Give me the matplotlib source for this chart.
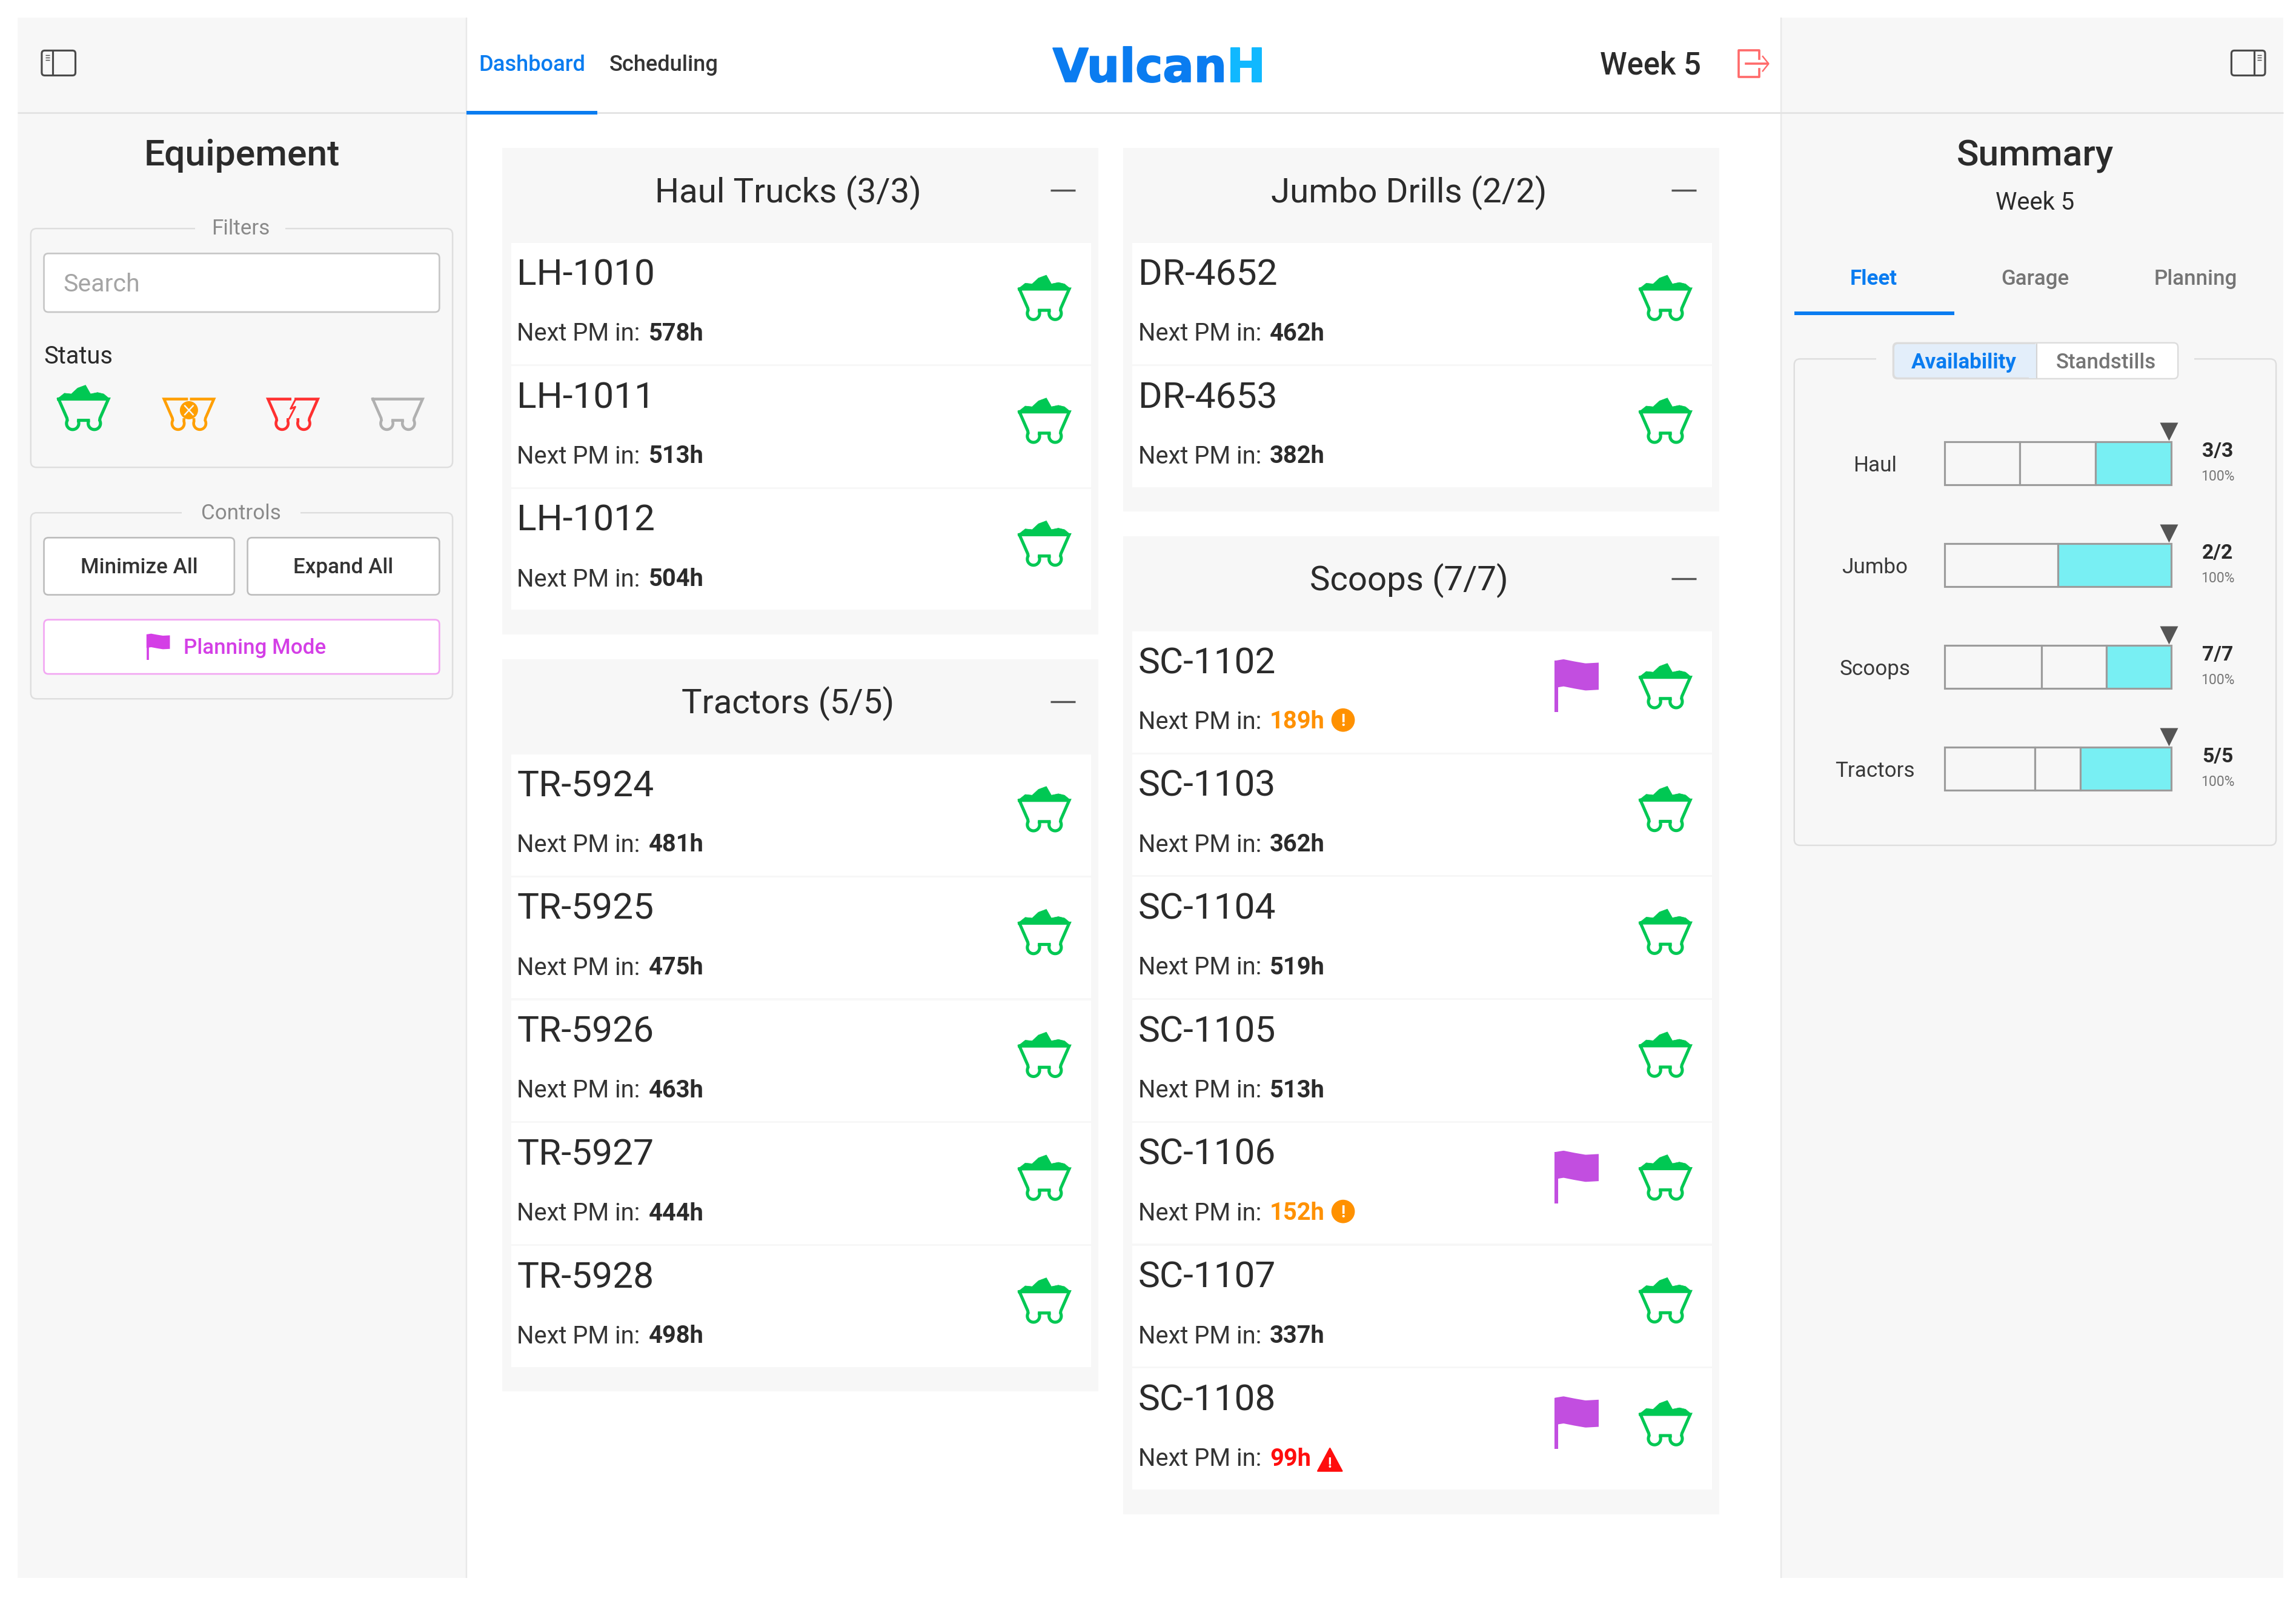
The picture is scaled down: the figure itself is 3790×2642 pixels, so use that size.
import numpy as np
import matplotlib
matplotlib.use("Agg")
import matplotlib.pyplot as plt
from matplotlib.patches import FancyBboxPatch, Rectangle, Polygon, Circle
import matplotlib.patheffects as pe

# ---- data ----
haul_ids = ["LH-1010", "LH-1011", "LH-1012"]
haul_pm = [578, 513, 504]
tractor_ids = ["TR-5924", "TR-5925", "TR-5926", "TR-5927", "TR-5928"]
tractor_pm = [481, 475, 463, 444, 498]
jumbo_ids = ["DR-4652", "DR-4653"]
jumbo_pm = [462, 382]
scoop_ids = ["SC-1102", "SC-1103", "SC-1104", "SC-1105", "SC-1106", "SC-1107", "SC-1108"]
scoop_pm = [189, 362, 519, 513, 152, 337, 99]
scoop_flagged = ["SC-1102", "SC-1106", "SC-1108"]

avail_labels = ["Haul", "Jumbo", "Scoops", "Tractors"]
avail_segments = [[1, 1, 1], [1, 1], [3, 2, 2], [2, 1, 2]]
avail_counts = ["3/3", "2/2", "7/7", "5/5"]
avail_pct = ["100%", "100%", "100%", "100%"]
status_colors = ["#00c853", "#ff9f00", "#ff3030", "#b0b0b0"]

# ---- setup ----
W, H = 1568.0, 1092.8
U = 3791 / 1568 * 72 / 100   # points per layout unit
FAM = ["Roboto", "DejaVu Sans"]
DARK = "#2b2b2b"
BLUE = "#0a7cf0"
PANEL = "#f7f7f7"
LINE = "#e4e4e4"
GREEN = "#00c853"
PURPLE = "#c24ee0"

fig = plt.figure(figsize=(37.91, 26.42), dpi=100, facecolor="white")
ax = fig.add_axes([0, 0, 1, 1])
ax.set_xlim(0, W)
ax.set_ylim(H, 0)
ax.axis("off")


def T(x, y, s, size, color=DARK, ha="center", weight="normal", va="center_baseline", z=6, family=None, **kw):
    return ax.text(x, y - 0.07 * size, s, fontsize=size * U, color=color, ha=ha, va=va, weight=weight,
                   family=family or FAM, zorder=z, **kw)


def rect(x0, y0, x1, y1, fc, ec="none", lw=0, z=1):
    ax.add_patch(Rectangle((x0, y0), x1 - x0, y1 - y0, fc=fc, ec=ec, lw=lw * U, zorder=z))


def rbox(x0, y0, x1, y1, fc="white", ec="#c9c9c9", lw=1.0, r=3, z=3):
    ax.add_patch(FancyBboxPatch((x0 + r, y0 + r), x1 - x0 - 2 * r, y1 - y0 - 2 * r,
                                boxstyle=f"round,pad={r},rounding_size={r}",
                                fc=fc, ec=ec, lw=lw * U, zorder=z))


def hline(x0, x1, y, c=LINE, lw=1.0, z=2):
    ax.plot([x0, x1], [y, y], color=c, lw=lw * U, zorder=z, solid_capstyle="butt")


def vline(x, y0, y1, c=LINE, lw=1.0, z=2):
    ax.plot([x, x], [y0, y1], color=c, lw=lw * U, zorder=z, solid_capstyle="butt")


def wheel_right():
    # from the outer side, under the bottom, to the inner side
    th = np.radians(np.linspace(-30, 200, 24))
    return np.c_[7.4 + 4.2 * np.cos(th), 9.6 + 4.2 * np.sin(th)]


def cart(cx, cy, color=GREEN, load=True, lw=2.1, z=5):
    wr = wheel_right()
    wl = wr[::-1] * [-1, 1]
    p = np.vstack([[[-17, -7], [17, -7], [11.3, 6]], wr, [[3.4, 7.5], [-3.4, 7.5]], wl, [[-11.3, 6], [-17, -7]]])
    p = p + [cx, cy]
    ax.plot(p[:, 0], p[:, 1], color=color, lw=lw * U, zorder=z, solid_joinstyle="miter")
    if load:
        l = np.array([[-18, -7], [-13, -11], [-8.3, -10.5], [-4, -14.5], [1.4, -16.5], [4.8, -10.5],
                      [9.6, -11.5], [13.8, -10.5], [18, -7]]) + [cx, cy]
        ax.add_patch(Polygon(l, closed=True, fc=color, ec=color, lw=0.3 * U, zorder=z))


def split_cart(cx, cy, color, gap=2.0, lw=1.9, z=5):
    """Empty cart broken into two halves around the centre."""
    wr = wheel_right()
    half = np.vstack([[[gap, -7], [17, -7], [11.3, 6]], wr, [[3.4, 7.0]]])
    for sgn in (1, -1):
        p = half * [sgn, 1] + [cx, cy]
        ax.plot(p[:, 0], p[:, 1], color=color, lw=lw * U, zorder=z, solid_joinstyle="miter")


FLAG_X = [0, 0.2, 0.45, 0.7, 1]
FLAG_Y = [1.0, 0.0, 1.5, 2.8, 2.3]


def flag(x, y, w=30, h=36, color=PURPLE, z=5):
    # x, y: top-left of the pole
    k = h / 36
    xs = np.linspace(0, 1, 40)
    wave = np.interp(xs, FLAG_X, FLAG_Y) * k
    top = np.c_[x + xs * w, y + wave]
    bot = np.c_[x + xs * w, y + 18.5 * k + wave]
    ax.add_patch(Polygon(np.vstack([top, bot[::-1]]), closed=True, fc=color, ec="none", zorder=z))
    vline(x + 1.25 * max(k, 0.6), y + 1, y + h, c=color, lw=2.5 * max(k, 0.6), z=z)


def group(x0, y0, x1, title, ids, pms, flagged=()):
    n = len(ids)
    pitch = 83.85
    y1 = y0 + 65 + pitch * n + 15.5
    rect(x0, y0, x1, y1, PANEL, z=1)
    T((x0 + x1) / 2 - 8.5, y0 + 29.5, title, 23.3)
    hline(x1 - 33, x1 - 16, y0 + 29, c="#555555", lw=1.4)
    for i, (name, pm) in enumerate(zip(ids, pms)):
        top = y0 + 65 + pitch * i
        rect(x0 + 6, top, x1 - 5, top + pitch - 1.3, "white", z=2)
        T(x0 + 10, top + 21, name, 25, ha="left")
        T(x0 + 10, top + 61.3, "Next PM in:", 16.5, ha="left", color="#333333")
        col = "#ff0d0d" if pm < 100 else ("#ff9100" if pm < 200 else DARK)
        T(x0 + 100, top + 61.3, f"{pm}h", 16.5, ha="left", color=col, weight="bold")
        if pm < 100:
            tx = x0 + 141
            ax.add_patch(Polygon([[tx, top + 54.5], [tx + 8.3, top + 70], [tx - 8.3, top + 70]], closed=True,
                                 fc="#ff0d0d", ec="#ff0d0d", lw=1 * U, joinstyle="round", zorder=5))
            T(tx, top + 64.5, "!", 10, color="white", weight="bold")
        elif pm < 200:
            cxx = x0 + 150
            ax.add_patch(Circle((cxx, top + 60.5), 8, fc="#ff9100", ec="none", zorder=5))
            T(cxx, top + 61, "!", 11, color="white", weight="bold")
        cart(x1 - 37, top + 38.3)
        if name in flagged:
            flag(x0 + 294.5, top + 19)
    return y1


# ---- page frame ----
rect(12, 12, 318.5, 1077, PANEL, z=0)
rect(1216, 12, 1559, 1077, PANEL, z=0)
vline(318.5, 12, 1077, c="#e8e8e8", lw=1.0)
vline(1216, 12, 1077, c="#e8e8e8", lw=1.0)
hline(12, 1559, 77, c="#e3e3e3", lw=1.2)

# ---- top bar ----
rect(318.5, 75.5, 408, 78.2, BLUE, z=3)
T(327, 44, "Dashboard", 15, color=BLUE, ha="left", weight="medium")
T(416, 44, "Scheduling", 15, color="#333333", ha="left", weight="medium")
LOGO = ["DejaVu Sans"]
T(837.5, 46, "Vulcan", 31.5, color=BLUE, ha="right", weight="bold", family=LOGO,
  path_effects=[pe.withStroke(linewidth=0.8 * U, foreground=BLUE)])
T(837.5, 46, "H", 31.5, color="#10b8ff", ha="left", weight="bold", family=LOGO,
  path_effects=[pe.withStroke(linewidth=0.8 * U, foreground="#10b8ff")])
T(1127, 44, "Week 5", 21, ha="center", weight="medium")
# exit icon
ax.plot([1201, 1201, 1187, 1187, 1201, 1201], [40, 34.5, 34.5, 52.5, 52.5, 47],
        color="#ff6a6a", lw=1.5 * U, zorder=5)
ax.plot([1192, 1207], [43.5, 43.5], color="#ff6a6a", lw=1.5 * U, zorder=5)
ax.plot([1203.5, 1207.5, 1203.5], [38.5, 43.5, 48.5], color="#ff6a6a", lw=1.0 * U, zorder=5)


def side_icon(x0, x1, panel_left):
    rbox(x0, 34.5, x1, 51.5, fc="none", ec="#4a4a4a", lw=1.3, r=2, z=5)
    if panel_left:
        vline(x0 + 7.5, 34.5, 51.5, c="#4a4a4a", lw=1.3, z=5)
        for yy in (37.5, 39.3, 41.1):
            hline(x0 + 2.5, x0 + 5.5, yy, c="#4a4a4a", lw=0.6, z=5)
    else:
        vline(x1 - 7.5, 34.5, 51.5, c="#4a4a4a", lw=1.3, z=5)
        for yy in (37.5, 39.3, 41.1):
            hline(x1 - 5.5, x1 - 2.5, yy, c="#4a4a4a", lw=0.6, z=5)


side_icon(28.5, 51.5, True)
side_icon(1523.5, 1546.5, False)

# ---- left panel ----
T(165, 105.5, "Equipement", 25, weight="medium")
rbox(21, 156, 309, 319, fc=PANEL, ec="#dedede", lw=1.0, r=4, z=2)
rect(133, 150, 195, 160, PANEL, z=3)
T(164.5, 155.8, "Filters", 14.5, color="#8a8a8a")
rbox(30, 173, 300, 213, fc="white", ec="#c6c6c6", lw=1.1, r=3)
T(43, 193.8, "Search", 17, color="#a5a5a5", ha="left")
T(30, 242.8, "Status", 16.5, ha="left")
status_x = [57, 129, 200, 271.5]
status_cy = 279.4
cart(status_x[0], status_cy, color=status_colors[0])
split_cart(status_x[1], status_cy, status_colors[1], gap=1.6)
split_cart(status_x[2], status_cy, status_colors[2], gap=2.0)
cart(status_x[3], status_cy, color=status_colors[3], load=False, lw=1.9)
ox = status_x[1]
ax.add_patch(Circle((ox, 280), 6.2, fc=status_colors[1], ec="none", zorder=7))
ax.plot([ox - 2.8, ox + 2.8], [277, 283], color=PANEL, lw=1.0 * U, zorder=8)
ax.plot([ox - 2.8, ox + 2.8], [283, 277], color=PANEL, lw=1.0 * U, zorder=8)
bx = status_x[2]
ax.plot([bx + 1.6, bx - 1.6, bx + 1.6, bx - 2.4], [272.9, 279, 277.7, 285.4],
        color=status_colors[2], lw=1.2 * U, zorder=7)

rbox(21, 350, 309, 477, fc=PANEL, ec="#dedede", lw=1.0, r=4, z=2)
rect(124, 344, 205, 355, PANEL, z=3)
T(164.5, 350, "Controls", 14.5, color="#8a8a8a")
rbox(30, 367, 160, 406, fc="white", ec="#bdbdbd", lw=1.1, r=3)
T(95, 387, "Minimize All", 14.5, color="#333333", weight="medium")
rbox(169, 367, 300, 406, fc="white", ec="#bdbdbd", lw=1.1, r=3)
T(234.5, 387, "Expand All", 14.5, color="#333333", weight="medium")
rbox(30, 423, 300, 460, fc="white", ec="#f2a6f2", lw=1.1, r=3)
flag(100, 432.5, w=16, h=18, color="#d43fe6")
T(174, 442, "Planning Mode", 14.5, color="#d43fe6", weight="medium")

# ---- centre groups ----
group(343, 101, 750, f"Haul Trucks ({len(haul_ids)}/{len(haul_ids)})", haul_ids, haul_pm)
group(343, 450, 750, f"Tractors ({len(tractor_ids)}/{len(tractor_ids)})", tractor_ids, tractor_pm)
group(767, 101, 1174, f"Jumbo Drills ({len(jumbo_ids)}/{len(jumbo_ids)})", jumbo_ids, jumbo_pm)
group(767, 366, 1174, f"Scoops ({len(scoop_ids)}/{len(scoop_ids)})", scoop_ids, scoop_pm, scoop_flagged)

# ---- right panel ----
T(1389.5, 105.5, "Summary", 25, weight="medium")
T(1389.5, 137.8, "Week 5", 16.5)
T(1279, 190, "Fleet", 14.5, color=BLUE, weight="semibold")
T(1389.5, 190, "Garage", 14.5, color="#757575", weight="medium")
T(1499, 190, "Planning", 14.5, color="#757575", weight="medium")
rect(1225, 212.5, 1334.5, 215, BLUE, z=3)

rbox(1225, 245, 1554, 577, fc=PANEL, ec="#dedede", lw=1.0, r=4, z=2)
rect(1281, 240, 1498, 250, PANEL, z=3)
rbox(1292.5, 234, 1487, 258.5, fc="white", ec="#dcdcdc", lw=1.0, r=3, z=4)
rbox(1293, 234.5, 1390.5, 258, fc="#e3eefa", ec="#dcdcdc", lw=0.8, r=3, z=4)
rect(1385, 234.8, 1390.5, 258, "#e3eefa", z=4)
vline(1390.5, 234.5, 258, c="#d4d4d4", lw=0.9, z=5)
T(1341, 247, "Availability", 14.5, color=BLUE, weight="semibold")
T(1438, 247, "Standstills", 14.5, color="#757575", weight="medium")

# availability bars: own axes whose scale spans one fleet's full share
bar_h = 29.5
row_pitch = 69.5
first_mid = 316.3
bar_x0, bar_x1 = 1327.6, 1482.2
ytop = first_mid - row_pitch / 2
ybot = first_mid + row_pitch * (len(avail_labels) - 0.5)
bax = fig.add_axes([bar_x0 / W, 1 - ybot / H, (bar_x1 - bar_x0) / W, (ybot - ytop) / H])
bax.set_xlim(0, 1)
bax.set_ylim(len(avail_labels) - 0.5, -0.5)
bax.axis("off")
bax.patch.set_alpha(0)
for i, (lab, segs) in enumerate(zip(avail_labels, avail_segments)):
    total = sum(segs)
    left = 0.0
    for j, s in enumerate(segs):
        share = s / total
        fc = "#78eff3" if j == len(segs) - 1 else PANEL
        bax.barh(i, share, left=left, height=bar_h / row_pitch, color=fc,
                 edgecolor="#9c9c9c", linewidth=1.3 * U, zorder=3, clip_on=False)
        left += share
    bax.plot([0.99], [i - 0.5 * bar_h / row_pitch - 0.1], marker="v", ms=12.5 * U, color="#555555",
             mec="none", clip_on=False, zorder=4)
    ymid = first_mid + i * row_pitch
    T(1280, ymid + 1.3, lab, 14.5, color="#3a3a3a")
    T(1514, ymid - 8.5, avail_counts[i], 14, weight="bold")
    T(1514, ymid + 8.7, avail_pct[i], 9.5, color="#777777")

fig.savefig("out.png", dpi=100, facecolor="white")
